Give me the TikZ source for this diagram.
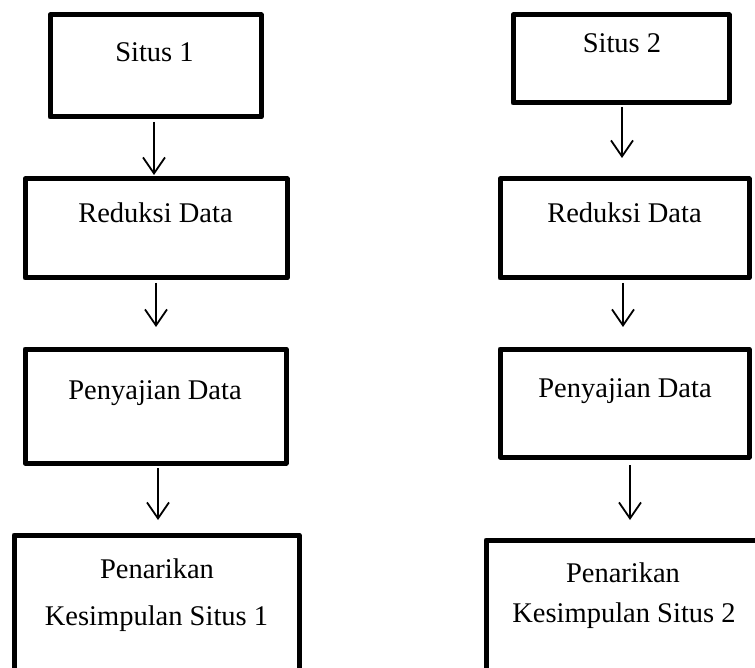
\documentclass[tikz,border=0pt]{standalone}
\usepackage{fontspec}
\setmainfont{Liberation Serif}
\usetikzlibrary{arrows.meta}

\tikzset{
  stagebox/.style={draw, line width=5pt, line join=round, rectangle,
    outer sep=0pt, inner sep=0pt},
  stagetext/.style={anchor=base, inner sep=0pt, outer sep=0pt,
    font=\fontsize{28.5}{34}\selectfont},
  flow/.style={line width=1.8pt,
    -{Straight Barb[length=16pt,width=22pt,line width=1.8pt]}},
}

\begin{document}
\begin{tikzpicture}[x=1pt,y=-1pt]
  \useasboundingbox (0,0) rectangle (755,668);
  \clip (0,0) rectangle (755,668);

  % left column: Situs 1
  \node[stagebox, minimum width=211pt, minimum height=102pt] (s1) at (155.5,66) {};
  \node[stagebox, minimum width=262pt, minimum height=99pt]  (r1) at (156,228.5) {};
  \node[stagebox, minimum width=261pt, minimum height=114pt] (p1) at (155.5,406) {};
  \node[stagebox, minimum width=285pt, minimum height=170pt] (k1) at (156.5,620) {};

  \node[stagetext] (s1t) at (154.5,62) {Situs 1};
  \node[stagetext] (r1t) at (155.5,223) {Reduksi Data};
  \node[stagetext] (p1t) at (155,399) {Penyajian Data};
  \node[stagetext] (k1a) at (157,578) {Penarikan};
  \node[stagetext] (k1b) at (156.5,625) {Kesimpulan Situs 1};

  \draw[flow] ([xshift=-1.5pt,yshift=-5pt]s1.south) -- ([xshift=-2pt,yshift=4pt]r1.north);
  \draw[flow] ([yshift=-5pt]r1.south) -- ([xshift=0.5pt,yshift=22pt]p1.north);
  \draw[flow] ([xshift=2.5pt,yshift=-5pt]p1.south) -- ([xshift=1.5pt,yshift=15pt]k1.north);

  % right column: Situs 2
  \node[stagebox, minimum width=216pt, minimum height=88pt]  (s2) at (621,59) {};
  \node[stagebox, minimum width=249pt, minimum height=99pt]  (r2) at (624.5,228.5) {};
  \node[stagebox, minimum width=249pt, minimum height=108pt] (p2) at (624.5,403) {};
  \node[stagebox, minimum width=314pt, minimum height=170pt] (k2) at (643,625) {};

  \node[stagetext] (s2t) at (622,53) {Situs 2};
  \node[stagetext] (r2t) at (624.5,223) {Reduksi Data};
  \node[stagetext] (p2t) at (625,397) {Penyajian Data};
  \node[stagetext] (k2a) at (623,582) {Penarikan};
  \node[stagetext] (k2b) at (624,622) {Kesimpulan Situs 2};

  \draw[flow] ([xshift=1pt,yshift=-4pt]s2.south) -- ([xshift=-2.5pt,yshift=21pt]r2.north);
  \draw[flow] ([xshift=-1.5pt,yshift=-5pt]r2.south) -- ([xshift=-1.5pt,yshift=22pt]p2.north);
  \draw[flow] ([xshift=5.5pt,yshift=-8pt]p2.south) -- ([xshift=-13pt,yshift=20pt]k2.north);
\end{tikzpicture}
\end{document}
